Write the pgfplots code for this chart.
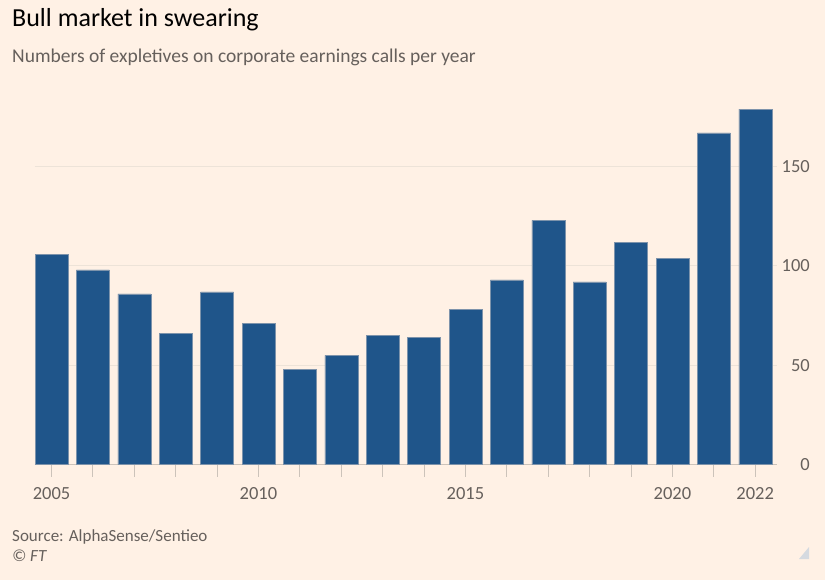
\documentclass[border=0pt]{standalone}
\usepackage{pgfplots}
\pgfplotsset{compat=1.18}
\usepackage{fontspec}
\setmainfont{Carlito}
\definecolor{ftbg}{HTML}{FFF1E5}
\definecolor{ftbar}{HTML}{1F558A}
\definecolor{ftedge}{HTML}{7D93AB}
\definecolor{ftgrey}{HTML}{66605C}
\definecolor{ftgrid}{HTML}{EDE3D8}
\definecolor{ftaxis}{HTML}{CCC3BA}
\definecolor{fttri}{HTML}{D5DAE0}
\begin{document}
\begin{tikzpicture}
\useasboundingbox (0pt,0pt) rectangle (825pt,-580pt);
\fill[ftbg] (0pt,0pt) rectangle (825pt,-580pt);
\node[anchor=base west, inner sep=0pt, font=\fontsize{26}{30}\selectfont, text=black] at (12pt,-26.7pt) {Bull market in swearing};
\node[anchor=base west, inner sep=0pt, font=\fontsize{19.5}{23}\selectfont, text=ftgrey] at (12pt,-62.7pt) {Numbers of expletives on corporate earnings calls per year};
\begin{axis}[
  at={(34.7pt,-464.5pt)}, anchor=south west,
  scale only axis, width=742pt, height=377.2pt,
  xmin=2004.594, xmax=2022.517, ymin=0, ymax=190,
  axis x line*=bottom, axis y line*=right,
  x axis line style={draw=ftaxis, line width=1.2pt, -},
  y axis line style={draw=none},
  xtick={2005,...,2022},
  xticklabels={2005,{},{},{},{},2010,{},{},{},{},2015,{},{},{},{},2020,{},2022},
  ytick={0,50,100,150},
  tick align=outside,
  major tick length=12pt,
  x tick style={draw=ftaxis, line width=1pt},
  y tick style={draw=none},
  ymajorgrids,
  grid style={draw=ftgrid, line width=1pt},
  /pgf/number format/assume math mode=true,
  xticklabel style={font=\fontsize{18.5}{22}\selectfont, text=ftgrey, anchor=base, inner sep=0pt, yshift=-23pt},
  yticklabel style={font=\fontsize{18.5}{22}\selectfont, text=ftgrey, anchor=east, inner sep=0pt, xshift=21.3pt},
  ybar, bar width=33pt,
]
\addplot[fill=ftbar, draw=ftedge, line width=0.5pt] coordinates {
(2005,106) (2006,98) (2007,86) (2008,66) (2009,87) (2010,71)
(2011,48) (2012,55) (2013,65) (2014,64) (2015,78) (2016,93)
(2017,123) (2018,92) (2019,112) (2020,104) (2021,167) (2022,179)
};
\end{axis}
\node[anchor=base west, inner sep=0pt, font=\fontsize{17}{20}\selectfont, text=ftgrey] at (12pt,-541.7pt) {Source: AlphaSense/Sentieo};
\node[anchor=base west, inner sep=0pt, font=\fontsize{17}{20}\selectfont\itshape, text=ftgrey] at (12pt,-561.7pt) {© FT};
\fill[fttri] (799pt,-559pt) -- (809pt,-559pt) -- (809pt,-547pt) -- cycle;
\end{tikzpicture}
\end{document}
